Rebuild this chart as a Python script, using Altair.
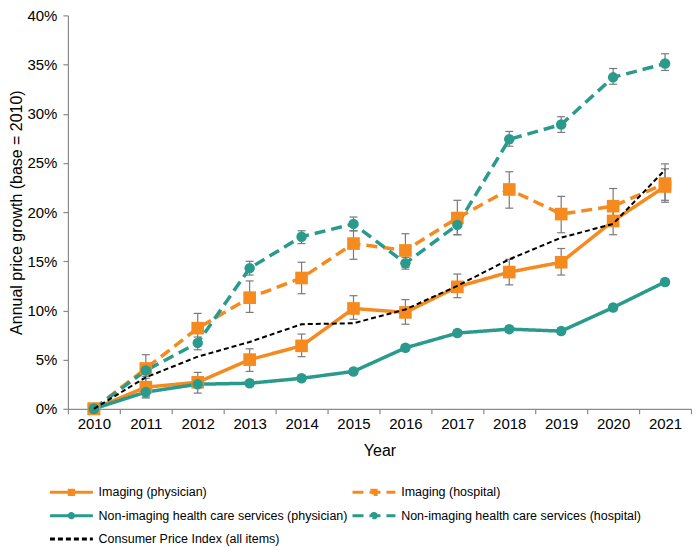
import altair as alt
import pandas as pd

years = [2010, 2011, 2012, 2013, 2014, 2015, 2016, 2017, 2018, 2019, 2020, 2021]

series_names = [
    "Imaging (physician)",
    "Imaging (hospital)",
    "Non-imaging health care services (physician)",
    "Non-imaging health care services (hospital)",
    "Consumer Price Index (all items)",
]

imaging_phys = [0, 2.2, 2.7, 5.0, 6.4, 10.2, 9.8, 12.4, 13.9, 14.9, 19.1, 22.6]
imaging_phys_lo = [0, 1.2, 1.6, 3.8, 5.3, 9.1, 8.6, 11.3, 12.6, 13.6, 17.7, 21.0]
imaging_phys_hi = [0, 3.1, 3.7, 6.1, 7.6, 11.5, 11.1, 13.7, 15.2, 16.3, 20.6, 24.4]

imaging_hosp = [0, 4.1, 8.2, 11.3, 13.3, 16.8, 16.1, 19.4, 22.3, 19.8, 20.6, 22.9]
imaging_hosp_lo = [0, 2.7, 6.6, 9.8, 11.7, 15.2, 14.4, 17.7, 20.4, 17.9, 18.8, 21.2]
imaging_hosp_hi = [0, 5.5, 9.7, 13.0, 14.9, 18.1, 17.8, 21.2, 24.1, 21.6, 22.4, 24.9]

nonimg_phys = [0, 1.7, 2.5, 2.6, 3.1, 3.8, 6.2, 7.7, 8.1, 7.9, 10.3, 12.9]
nonimg_phys_lo = [0, 1.1, 2.2, 2.3, 2.8, 3.5, 5.9, 7.4, 7.8, 7.6, 10.0, 12.6]
nonimg_phys_hi = [0, 2.2, 2.8, 2.9, 3.4, 4.1, 6.5, 8.0, 8.4, 8.2, 10.6, 13.2]

nonimg_hosp = [0, 3.9, 6.7, 14.3, 17.5, 18.8, 14.8, 18.7, 27.4, 28.9, 33.7, 35.1]
nonimg_hosp_lo = [0, 3.3, 6.0, 13.6, 16.8, 18.1, 14.2, 17.7, 26.7, 28.1, 33.0, 34.4]
nonimg_hosp_hi = [0, 4.6, 7.3, 15.0, 18.1, 19.5, 15.4, 19.5, 28.2, 29.7, 34.6, 36.1]

cpi = [0, 3.2, 5.3, 6.8, 8.6, 8.7, 10.1, 12.5, 15.2, 17.4, 18.8, 24.3]

y_ticks = [0, 5, 10, 15, 20, 25, 30, 35, 40]

groups = [
    (series_names[0], imaging_phys, imaging_phys_lo, imaging_phys_hi),
    (series_names[1], imaging_hosp, imaging_hosp_lo, imaging_hosp_hi),
    (series_names[2], nonimg_phys, nonimg_phys_lo, nonimg_phys_hi),
    (series_names[3], nonimg_hosp, nonimg_hosp_lo, nonimg_hosp_hi),
    (series_names[4], cpi, cpi, cpi),
]
rows = []
for name, vals, los, his in groups:
    for yr, v, lo, hi in zip(years, vals, los, his):
        rows.append({"series": name, "year": str(yr), "value": v, "lo": lo, "hi": hi})
df = pd.DataFrame(rows)

ORANGE = "#F58A1F"
TEAL = "#2A9A8C"
BLACK = "#000000"
AXGRAY = "#8a8a8a"
ERRGRAY = "#7a7a7a"
FONT = "Liberation Sans"

# legend order (column-major in a 2-column legend): col 1 = physician rows + CPI, col 2 = hospital rows
IP, IH, NP, NH, CPI = series_names
legend_order = [IP, NP, CPI, IH, NH]
color_map = {IP: ORANGE, IH: ORANGE, NP: TEAL, NH: TEAL, CPI: BLACK}
dash_map = {IP: [1, 0], IH: [11, 6], NP: [1, 0], NH: [11, 6], CPI: [5, 3]}
# legend glyphs: a line with the series marker in the middle (path units are half the symbol size)
sq = "M-2,0H2M-0.2,-0.2H0.2V0.2H-0.2Z"
ci = "M-2,0H2M-0.2,0A0.2,0.2,0,1,1,0.2,0A0.2,0.2,0,1,1,-0.2,0Z"
shape_map = {IP: sq, IH: sq, NP: ci, NH: ci, CPI: "M-2,0H2"}

color_scale = alt.Scale(domain=legend_order, range=[color_map[s] for s in legend_order])
dash_scale = alt.Scale(domain=legend_order, range=[dash_map[s] for s in legend_order])
shape_scale = alt.Scale(domain=legend_order, range=[shape_map[s] for s in legend_order])

x_axis = alt.Axis(
    title="Year", labelAngle=0, tickBand="extent", tickSize=5, labelPadding=3,
    titlePadding=11, labelFontSize=15, titleFontSize=16, titleFontWeight="normal",
    domainColor=AXGRAY, tickColor=AXGRAY, domainWidth=1.2, tickWidth=1.2,
    grid=False, labelColor="black", titleColor="black",
)
y_axis = alt.Axis(
    title="Annual price growth (base = 2010)", values=y_ticks,
    labelExpr="datum.value + '%'", tickSize=5, labelPadding=6, titlePadding=2,
    labelFontSize=15, titleFontSize=16, titleFontWeight="normal",
    domainColor=AXGRAY, tickColor=AXGRAY, domainWidth=1.2, tickWidth=1.2,
    grid=False, labelColor="black", titleColor="black",
)
x_scale = alt.Scale(type="band", paddingInner=0, paddingOuter=0)
y_scale = alt.Scale(domain=[0, 40], nice=False)

X = alt.X("year:O", scale=x_scale, axis=x_axis)
Y = alt.Y("value:Q", scale=y_scale, axis=y_axis)

leg = alt.Legend(
    orient="none", legendX=-9, legendY=465, columns=2, direction="vertical", title=None,
    labelFont=FONT, labelFontSize=12.5, labelColor="black", labelOffset=14.75, labelLimit=600,
    symbolSize=462, symbolStrokeWidth=3, symbolOpacity=1,
    columnPadding=-2, rowPadding=2.5, padding=0,
)

base = alt.Chart(df)

legend_layer = base.transform_filter("false").mark_point(
    filled=False, opacity=1, strokeWidth=3
).encode(
    x=X, y=Y,
    color=alt.Color("series:N", scale=color_scale, legend=leg),
    shape=alt.Shape("series:N", scale=shape_scale, legend=leg),
    strokeDash=alt.StrokeDash("series:N", scale=dash_scale, legend=leg),
)

err = base.transform_filter("datum.hi > datum.lo")
err_rule = err.mark_rule(color=ERRGRAY, strokeWidth=1.2).encode(
    x=X, y=alt.Y("lo:Q", scale=y_scale, axis=y_axis), y2="hi:Q"
)
cap_lo = err.mark_tick(color=ERRGRAY, thickness=1.2, size=8, opacity=1).encode(
    x=X, y=alt.Y("lo:Q", scale=y_scale, axis=y_axis)
)
cap_hi = err.mark_tick(color=ERRGRAY, thickness=1.2, size=8, opacity=1).encode(
    x=X, y=alt.Y("hi:Q", scale=y_scale, axis=y_axis)
)

lines = base.transform_filter(f"datum.series != '{CPI}'").mark_line(strokeWidth=3.5).encode(
    x=X, y=Y,
    color=alt.Color("series:N", scale=color_scale, legend=None),
    strokeDash=alt.StrokeDash("series:N", scale=dash_scale, legend=None),
)
squares = base.transform_filter("indexof(datum.series, 'Imaging') == 0").mark_square(
    size=160, opacity=1
).encode(x=X, y=Y, color=alt.Color("series:N", scale=color_scale, legend=None))
circles = base.transform_filter("indexof(datum.series, 'Non-imaging') == 0").mark_circle(
    size=110, opacity=1
).encode(x=X, y=Y, color=alt.Color("series:N", scale=color_scale, legend=None))
cpi_line = base.transform_filter(f"datum.series == '{CPI}'").mark_line(
    strokeWidth=2, strokeDash=[5, 3]
).encode(x=X, y=Y, color=alt.Color("series:N", scale=color_scale, legend=None))

chart = alt.layer(
    legend_layer, err_rule, cap_lo, cap_hi, lines, squares, circles, cpi_line
).properties(
    width=624, height=394,
    padding={"left": 0, "top": 0, "right": 0, "bottom": 0},
).configure_view(stroke=None).configure_axis(
    labelFont=FONT, titleFont=FONT
).configure_legend(labelFont=FONT)

chart.save("out.html", embed_options={"renderer": "svg", "actions": False})
